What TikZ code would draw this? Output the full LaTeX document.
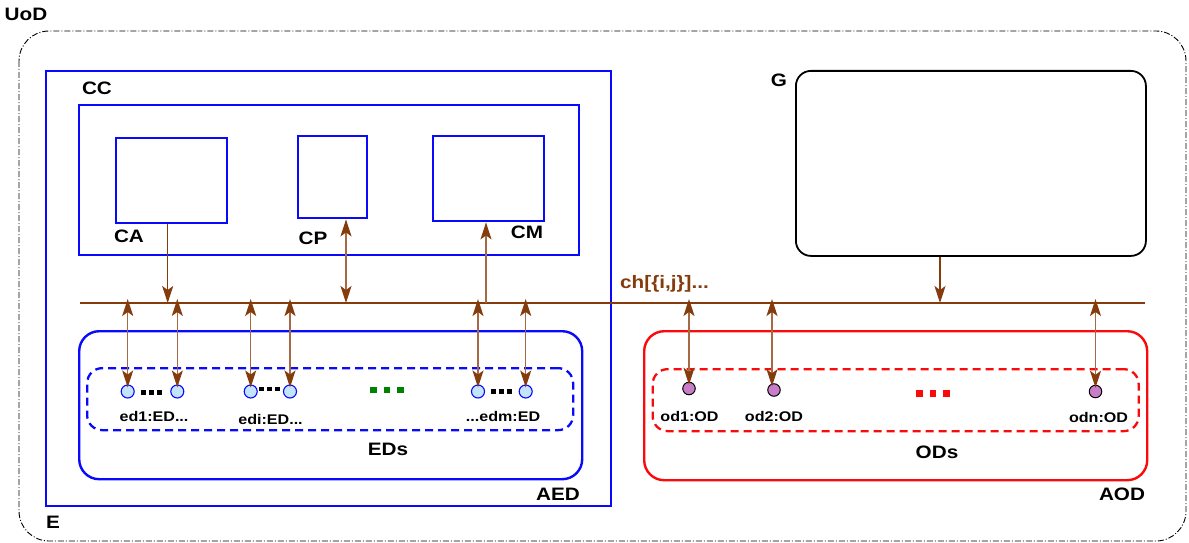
\documentclass[tikz,border=0pt]{standalone}
\usepackage{fontspec}
\setmainfont{Liberation Sans}[FakeStretch=1.15]
\usetikzlibrary{arrows.meta}
\definecolor{chbrown}{RGB}{133,60,12}
\definecolor{lbrown}{RGB}{165,105,70}
\definecolor{bblue}{RGB}{10,10,250}
\definecolor{rred}{RGB}{250,10,10}
\definecolor{edfill}{RGB}{195,228,250}
\definecolor{odfill}{RGB}{200,125,200}
\definecolor{dgreen}{RGB}{0,130,0}
\tikzset{
  big/.style={font=\bfseries\fontsize{18}{18}\selectfont, inner sep=0pt},
  sml/.style={font=\bfseries\fontsize{14}{14}\selectfont, inner sep=0pt},
  bbox/.style={draw=bblue, line width=2.4pt, inner sep=0pt, anchor=north west},
  gbox/.style={draw=black, line width=1.8pt, rounded corners=15pt, inner sep=0pt, anchor=north west},
  abox/.style={line width=2.4pt, rounded corners=20pt, inner sep=0pt, anchor=north west},
  ibox/.style={line width=2.3pt, rounded corners=15pt, dash pattern=on 8pt off 5pt, inner sep=0pt, anchor=north west},
  edc/.style={circle, draw=bblue, fill=edfill, line width=1.1pt, minimum size=13pt, inner sep=0pt},
  odc/.style={circle, draw=black, fill=odfill, line width=1pt, minimum size=12.5pt, inner sep=0pt},
  atip/.tip={Stealth[length=17pt, width=11pt, inset=4pt, color=chbrown, fill=chbrown]},
  conn/.style={draw=chbrown, line width=1.3pt, -atip},
  bconn/.style={draw=lbrown, line width=1.4pt, atip-atip},
  bdot/.style={fill=black, minimum size=4.5pt, inner sep=0pt},
  gdot/.style={fill=dgreen, minimum size=6.5pt, inner sep=0pt},
  rdot/.style={fill=rred, minimum size=6.5pt, inner sep=0pt},
}
\begin{document}
\begin{tikzpicture}[x=1pt, y=-1pt]
\useasboundingbox (0,0) rectangle (1189,543);
% universe of discourse
\draw[line width=0.9pt, rounded corners=30pt, dash pattern=on 6pt off 2pt on 1pt off 2pt] (19,31) rectangle (1186,541);
\node[big] (uod) at (26,14) {UoD};
% environment
\node[bbox, minimum width=565pt, minimum height=435pt] (E) at (45,70) {};
\node[big] (Elbl) at (53,522) {E};
\node[bbox, minimum width=500pt, minimum height=150pt] (CC) at (78,104) {};
\node[big] (CClbl) at (97,88) {CC};
\node[bbox, minimum width=111pt, minimum height=85pt] (CA) at (115,137) {};
\node[big] (CAlbl) at (129,236) {CA};
\node[bbox, minimum width=69pt, minimum height=82pt] (CP) at (296.5,135) {};
\node[big] (CPlbl) at (313,238) {CP};
\node[bbox, minimum width=111pt, minimum height=85pt] (CM) at (431.5,135) {};
\node[big] (CMlbl) at (527,232) {CM};
% G
\node[gbox, minimum width=350pt, minimum height=185pt] (G) at (795,70) {};
\node[big] (Glbl) at (779,80) {G};
% channel
\coordinate (chL) at (80,303);
\coordinate (chR) at (1145,303);
\draw[chbrown, line width=2.3pt] (chL) -- (chR);
\node[big, text=chbrown, anchor=west] (chlbl) at (620,284) {ch[\{i,j\}]...};
% AED
\node[abox, draw=bblue, minimum width=503pt, minimum height=148pt] (AED) at (78,330) {};
\node[big] (AEDlbl) at (558,494) {AED};
\node[ibox, draw=bblue, minimum width=486pt, minimum height=62pt] (EDs) at (86,367) {};
\node[big] (EDslbl) at (388,449) {EDs};
% AOD
\node[abox, draw=rred, minimum width=503pt, minimum height=149pt] (AOD) at (643,330) {};
\node[big] (AODlbl) at (1122,494) {AOD};
\node[ibox, draw=rred, minimum width=486pt, minimum height=62pt] (ODs) at (651.5,368) {};
\node[big] (ODslbl) at (937,452) {ODs};
% ED circles
\node[edc] (e1) at (127.7,391.5) {};
\node[edc] (e2) at (177.3,391.5) {};
\node[edc] (e3) at (250.7,391.5) {};
\node[edc] (e4) at (290,391.5) {};
\node[edc] (e5) at (478,391.5) {};
\node[edc] (e6) at (525.7,391.5) {};
\foreach \x in {143.7,151.7,159.7} \node[bdot] at (\x,392.5) {};
\foreach \x in {261.5,269.5,277.5} \node[bdot] at (\x,389) {};
\foreach \x in {493.7,501.7,509.7} \node[bdot] at (\x,391.7) {};
\foreach \x in {373.5,387,400.5} \node[gdot] at (\x,390) {};
\node[sml] (e1lbl) at (154,416.7) {ed1:ED...};
\node[sml] (e3lbl) at (270.5,419) {edi:ED...};
\node[sml] (e5lbl) at (503,416.7) {...edm:ED};
% OD circles
\node[odc] (o1) at (689,388.5) {};
\node[odc] (o2) at (774,390) {};
\node[odc] (o3) at (1095.5,391.5) {};
\foreach \x in {919.5,933,946.5} \node[rdot] at (\x,393.3) {};
\node[sml] (o1lbl) at (689.5,416) {od1:OD};
\node[sml] (o2lbl) at (774,416.7) {od2:OD};
\node[sml] (o3lbl) at (1098.5,417) {odn:OD};
% channel attachment coordinates
\foreach \n/\x in {a/167.7, p/346, m/486, g/940}
  \coordinate (ch\n) at (\x,303);
\foreach \n/\x in {c1/127.7, c2/177.3, c3/250.7, c4/290, c5/478, c6/525.7, d1/689, d2/772, d3/1095.5}
  \coordinate (cu\n) at (\x,299);
% connectors
\draw[conn] (CA.south -| cha) -- (cha);
\draw[bconn] (CP.south -| chp) -- (chp);
\draw[conn, draw=lbrown] (chm) -- (CM.south -| chm);
\draw[conn] (G.south -| chg) -- (chg);
\draw[bconn, shorten >=-3pt] (cuc1) -- (e1.north);
\draw[bconn, shorten >=-3pt] (cuc2) -- (e2.north);
\draw[bconn, shorten >=-3pt] (cuc3) -- (e3.north);
\draw[bconn, shorten >=-3pt] (cuc4) -- (e4.north);
\draw[bconn, shorten >=-3pt] (cuc5) -- (e5.north);
\draw[bconn, shorten >=-3pt] (cuc6) -- (e6.north);
\draw[bconn, shorten >=-3pt] (cud1) -- (o1.north);
\draw[bconn, shorten >=-3pt] (cud2) -- (o2.north -| cud2);
\draw[bconn, shorten >=-3pt] (cud3) -- (o3.north);
\end{tikzpicture}
\end{document}
